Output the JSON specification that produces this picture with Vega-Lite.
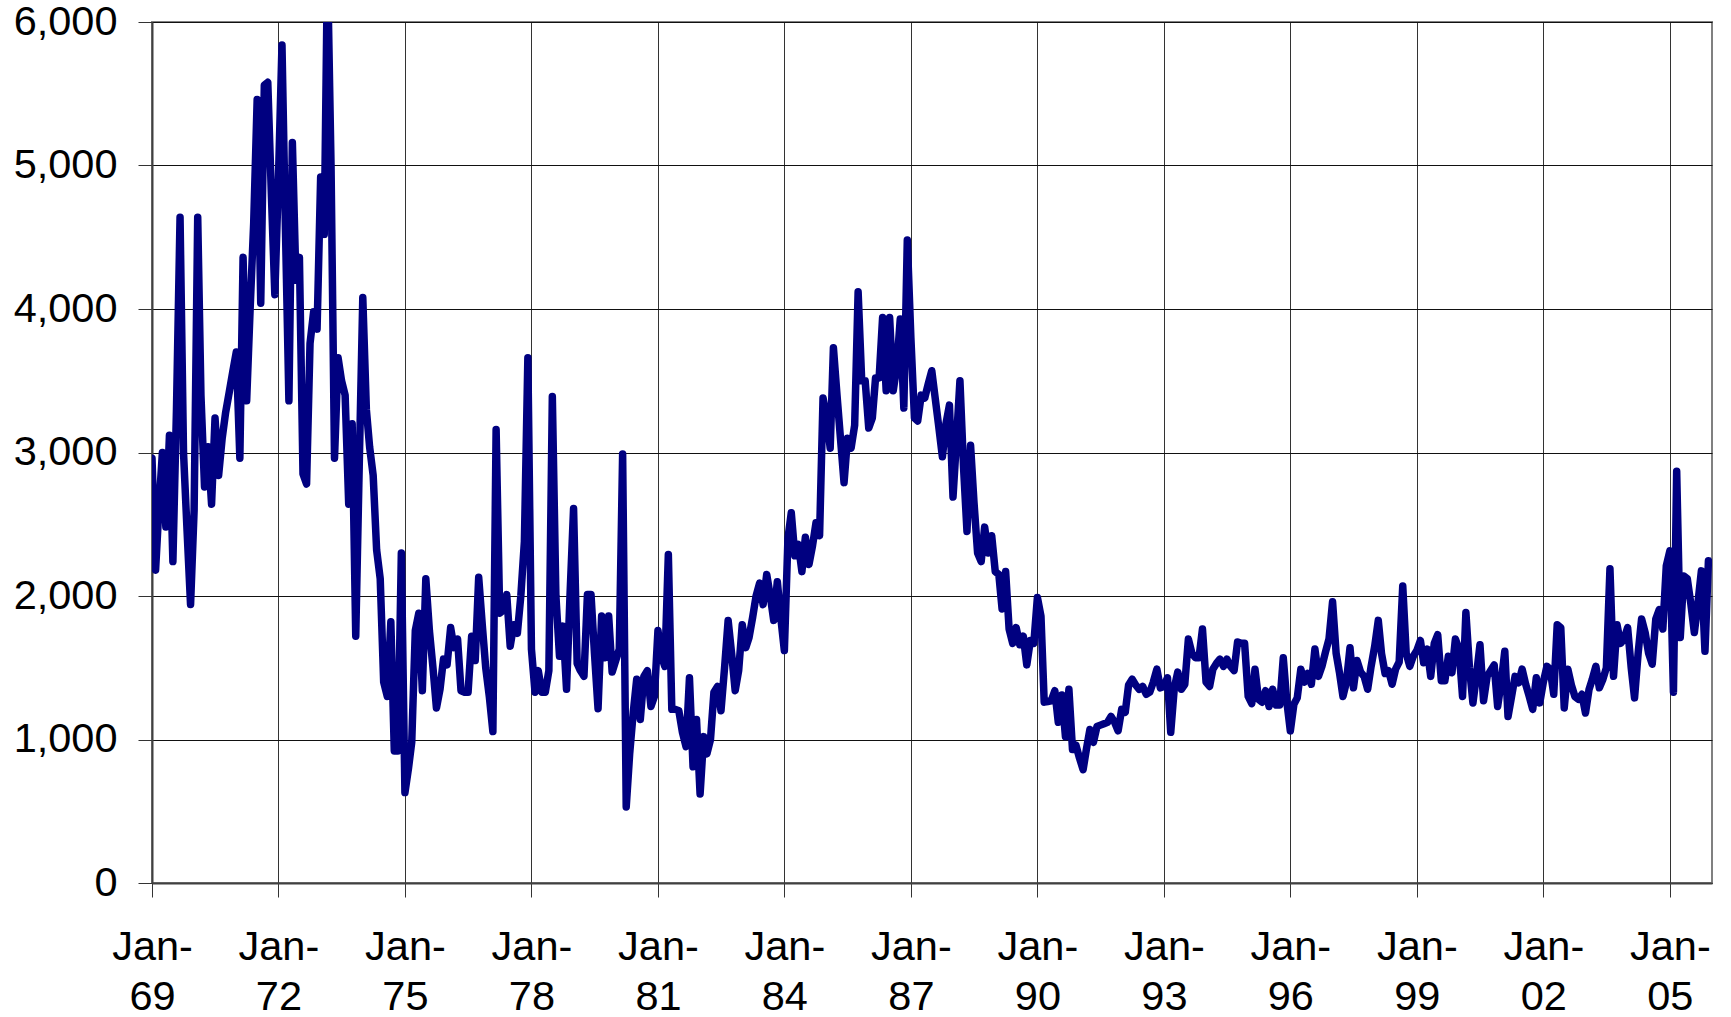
{
  "$schema": "https://vega.github.io/schema/vega-lite/v6.json",
  "width": 1560,
  "height": 861,
  "autosize": {"type": "none"},
  "padding": {"left": 152, "top": 22, "right": 19, "bottom": 134},
  "background": "white",
  "config": {
    "font": "Liberation Sans",
    "view": {"stroke": "#808080", "strokeWidth": 2}
  },
  "data": {
    "values": [
      {"d":"1969-01-01","v":2960},{"d":"1969-02-01","v":2180},{"d":"1969-03-01","v":2600},{"d":"1969-04-01","v":3000},{"d":"1969-05-01","v":2480},{"d":"1969-06-01","v":3120},{"d":"1969-07-01","v":2240},{"d":"1969-08-01","v":3300},{"d":"1969-09-01","v":4640},{"d":"1969-10-01","v":3000},{"d":"1969-11-01","v":2450},{"d":"1969-12-01","v":1940},
      {"d":"1970-01-01","v":2600},{"d":"1970-02-01","v":4640},{"d":"1970-03-01","v":3400},{"d":"1970-04-01","v":2760},{"d":"1970-05-01","v":3040},{"d":"1970-06-01","v":2640},{"d":"1970-07-01","v":3240},{"d":"1970-08-01","v":2840},{"d":"1970-09-01","v":3100},{"d":"1970-10-01","v":3280},{"d":"1970-11-01","v":3420},{"d":"1970-12-01","v":3560},
      {"d":"1971-01-01","v":3700},{"d":"1971-02-01","v":2960},{"d":"1971-03-01","v":4360},{"d":"1971-04-01","v":3360},{"d":"1971-05-01","v":4000},{"d":"1971-06-01","v":4600},{"d":"1971-07-01","v":5460},{"d":"1971-08-01","v":4040},{"d":"1971-09-01","v":5560},{"d":"1971-10-01","v":5580},{"d":"1971-11-01","v":4800},{"d":"1971-12-01","v":4100},
      {"d":"1972-01-01","v":4900},{"d":"1972-02-01","v":5840},{"d":"1972-03-01","v":4600},{"d":"1972-04-01","v":3360},{"d":"1972-05-01","v":5160},{"d":"1972-06-01","v":4200},{"d":"1972-07-01","v":4360},{"d":"1972-08-01","v":2850},{"d":"1972-09-01","v":2780},{"d":"1972-10-01","v":3760},{"d":"1972-11-01","v":3980},{"d":"1972-12-01","v":3860},
      {"d":"1973-01-01","v":4920},{"d":"1973-02-01","v":4520},{"d":"1973-03-01","v":6400},{"d":"1973-04-01","v":5000},{"d":"1973-05-01","v":2960},{"d":"1973-06-01","v":3660},{"d":"1973-07-01","v":3500},{"d":"1973-08-01","v":3400},{"d":"1973-09-01","v":2640},{"d":"1973-10-01","v":3200},{"d":"1973-11-01","v":1720},{"d":"1973-12-01","v":2900},
      {"d":"1974-01-01","v":4080},{"d":"1974-02-01","v":3300},{"d":"1974-03-01","v":3040},{"d":"1974-04-01","v":2840},{"d":"1974-05-01","v":2320},{"d":"1974-06-01","v":2120},{"d":"1974-07-01","v":1400},{"d":"1974-08-01","v":1300},{"d":"1974-09-01","v":1820},{"d":"1974-10-01","v":920},{"d":"1974-11-01","v":920},{"d":"1974-12-01","v":2300},
      {"d":"1975-01-01","v":630},{"d":"1975-02-01","v":800},{"d":"1975-03-01","v":980},{"d":"1975-04-01","v":1760},{"d":"1975-05-01","v":1880},{"d":"1975-06-01","v":1340},{"d":"1975-07-01","v":2120},{"d":"1975-08-01","v":1760},{"d":"1975-09-01","v":1500},{"d":"1975-10-01","v":1220},{"d":"1975-11-01","v":1350},{"d":"1975-12-01","v":1560},
      {"d":"1976-01-01","v":1520},{"d":"1976-02-01","v":1780},{"d":"1976-03-01","v":1640},{"d":"1976-04-01","v":1700},{"d":"1976-05-01","v":1340},{"d":"1976-06-01","v":1330},{"d":"1976-07-01","v":1330},{"d":"1976-08-01","v":1720},{"d":"1976-09-01","v":1550},{"d":"1976-10-01","v":2130},{"d":"1976-11-01","v":1800},{"d":"1976-12-01","v":1500},
      {"d":"1977-01-01","v":1300},{"d":"1977-02-01","v":1055},{"d":"1977-03-01","v":3160},{"d":"1977-04-01","v":1880},{"d":"1977-05-01","v":1900},{"d":"1977-06-01","v":2010},{"d":"1977-07-01","v":1650},{"d":"1977-08-01","v":1800},{"d":"1977-09-01","v":1740},{"d":"1977-10-01","v":2000},{"d":"1977-11-01","v":2380},{"d":"1977-12-01","v":3660},
      {"d":"1978-01-01","v":1630},{"d":"1978-02-01","v":1330},{"d":"1978-03-01","v":1480},{"d":"1978-04-01","v":1330},{"d":"1978-05-01","v":1330},{"d":"1978-06-01","v":1480},{"d":"1978-07-01","v":3390},{"d":"1978-08-01","v":2000},{"d":"1978-09-01","v":1580},{"d":"1978-10-01","v":1790},{"d":"1978-11-01","v":1350},{"d":"1978-12-01","v":2000},
      {"d":"1979-01-01","v":2610},{"d":"1979-02-01","v":1530},{"d":"1979-03-01","v":1480},{"d":"1979-04-01","v":1440},{"d":"1979-05-01","v":2010},{"d":"1979-06-01","v":2010},{"d":"1979-07-01","v":1600},{"d":"1979-08-01","v":1215},{"d":"1979-09-01","v":1860},{"d":"1979-10-01","v":1570},{"d":"1979-11-01","v":1860},{"d":"1979-12-01","v":1470},
      {"d":"1980-01-01","v":1550},{"d":"1980-02-01","v":1630},{"d":"1980-03-01","v":2990},{"d":"1980-04-01","v":530},{"d":"1980-05-01","v":900},{"d":"1980-06-01","v":1190},{"d":"1980-07-01","v":1420},{"d":"1980-08-01","v":1140},{"d":"1980-09-01","v":1440},{"d":"1980-10-01","v":1480},{"d":"1980-11-01","v":1230},{"d":"1980-12-01","v":1300},
      {"d":"1981-01-01","v":1760},{"d":"1981-02-01","v":1580},{"d":"1981-03-01","v":1510},{"d":"1981-04-01","v":2290},{"d":"1981-05-01","v":1210},{"d":"1981-06-01","v":1210},{"d":"1981-07-01","v":1200},{"d":"1981-08-01","v":1050},{"d":"1981-09-01","v":950},{"d":"1981-10-01","v":1430},{"d":"1981-11-01","v":810},{"d":"1981-12-01","v":1140},
      {"d":"1982-01-01","v":620},{"d":"1982-02-01","v":1020},{"d":"1982-03-01","v":900},{"d":"1982-04-01","v":1000},{"d":"1982-05-01","v":1330},{"d":"1982-06-01","v":1370},{"d":"1982-07-01","v":1200},{"d":"1982-08-01","v":1500},{"d":"1982-09-01","v":1830},{"d":"1982-10-01","v":1600},{"d":"1982-11-01","v":1340},{"d":"1982-12-01","v":1480},
      {"d":"1983-01-01","v":1800},{"d":"1983-02-01","v":1640},{"d":"1983-03-01","v":1710},{"d":"1983-04-01","v":1850},{"d":"1983-05-01","v":2000},{"d":"1983-06-01","v":2090},{"d":"1983-07-01","v":1940},{"d":"1983-08-01","v":2150},{"d":"1983-09-01","v":2000},{"d":"1983-10-01","v":1830},{"d":"1983-11-01","v":2100},{"d":"1983-12-01","v":1850},
      {"d":"1984-01-01","v":1620},{"d":"1984-02-01","v":2400},{"d":"1984-03-01","v":2580},{"d":"1984-04-01","v":2280},{"d":"1984-05-01","v":2360},{"d":"1984-06-01","v":2170},{"d":"1984-07-01","v":2410},{"d":"1984-08-01","v":2220},{"d":"1984-09-01","v":2350},{"d":"1984-10-01","v":2510},{"d":"1984-11-01","v":2420},{"d":"1984-12-01","v":3380},
      {"d":"1985-01-01","v":3250},{"d":"1985-02-01","v":3030},{"d":"1985-03-01","v":3730},{"d":"1985-04-01","v":3400},{"d":"1985-05-01","v":3100},{"d":"1985-06-01","v":2790},{"d":"1985-07-01","v":3100},{"d":"1985-08-01","v":3030},{"d":"1985-09-01","v":3190},{"d":"1985-10-01","v":4120},{"d":"1985-11-01","v":3500},{"d":"1985-12-01","v":3500},
      {"d":"1986-01-01","v":3170},{"d":"1986-02-01","v":3240},{"d":"1986-03-01","v":3520},{"d":"1986-04-01","v":3520},{"d":"1986-05-01","v":3940},{"d":"1986-06-01","v":3430},{"d":"1986-07-01","v":3940},{"d":"1986-08-01","v":3430},{"d":"1986-09-01","v":3600},{"d":"1986-10-01","v":3930},{"d":"1986-11-01","v":3310},{"d":"1986-12-01","v":4480},
      {"d":"1987-01-01","v":3800},{"d":"1987-02-01","v":3240},{"d":"1987-03-01","v":3220},{"d":"1987-04-01","v":3400},{"d":"1987-05-01","v":3380},{"d":"1987-06-01","v":3480},{"d":"1987-07-01","v":3570},{"d":"1987-08-01","v":3370},{"d":"1987-09-01","v":3170},{"d":"1987-10-01","v":2970},{"d":"1987-11-01","v":3200},{"d":"1987-12-01","v":3330},
      {"d":"1988-01-01","v":2690},{"d":"1988-02-01","v":3100},{"d":"1988-03-01","v":3500},{"d":"1988-04-01","v":2900},{"d":"1988-05-01","v":2450},{"d":"1988-06-01","v":3050},{"d":"1988-07-01","v":2650},{"d":"1988-08-01","v":2300},{"d":"1988-09-01","v":2240},{"d":"1988-10-01","v":2480},{"d":"1988-11-01","v":2300},{"d":"1988-12-01","v":2420},
      {"d":"1989-01-01","v":2170},{"d":"1989-02-01","v":2150},{"d":"1989-03-01","v":1910},{"d":"1989-04-01","v":2170},{"d":"1989-05-01","v":1770},{"d":"1989-06-01","v":1670},{"d":"1989-07-01","v":1780},{"d":"1989-08-01","v":1660},{"d":"1989-09-01","v":1720},{"d":"1989-10-01","v":1520},{"d":"1989-11-01","v":1690},{"d":"1989-12-01","v":1670},
      {"d":"1990-01-01","v":1990},{"d":"1990-02-01","v":1860},{"d":"1990-03-01","v":1260},{"d":"1990-04-01","v":1265},{"d":"1990-05-01","v":1270},{"d":"1990-06-01","v":1340},{"d":"1990-07-01","v":1120},{"d":"1990-08-01","v":1310},{"d":"1990-09-01","v":1020},{"d":"1990-10-01","v":1350},{"d":"1990-11-01","v":930},{"d":"1990-12-01","v":960},
      {"d":"1991-01-01","v":870},{"d":"1991-02-01","v":790},{"d":"1991-03-01","v":930},{"d":"1991-04-01","v":1070},{"d":"1991-05-01","v":980},{"d":"1991-06-01","v":1090},{"d":"1991-07-01","v":1100},{"d":"1991-08-01","v":1110},{"d":"1991-09-01","v":1120},{"d":"1991-10-01","v":1160},{"d":"1991-11-01","v":1120},{"d":"1991-12-01","v":1060},
      {"d":"1992-01-01","v":1210},{"d":"1992-02-01","v":1190},{"d":"1992-03-01","v":1380},{"d":"1992-04-01","v":1420},{"d":"1992-05-01","v":1380},{"d":"1992-06-01","v":1350},{"d":"1992-07-01","v":1370},{"d":"1992-08-01","v":1315},{"d":"1992-09-01","v":1330},{"d":"1992-10-01","v":1400},{"d":"1992-11-01","v":1490},{"d":"1992-12-01","v":1360},
      {"d":"1993-01-01","v":1370},{"d":"1993-02-01","v":1430},{"d":"1993-03-01","v":1050},{"d":"1993-04-01","v":1360},{"d":"1993-05-01","v":1470},{"d":"1993-06-01","v":1350},{"d":"1993-07-01","v":1385},{"d":"1993-08-01","v":1700},{"d":"1993-09-01","v":1600},{"d":"1993-10-01","v":1570},{"d":"1993-11-01","v":1570},{"d":"1993-12-01","v":1770},
      {"d":"1994-01-01","v":1400},{"d":"1994-02-01","v":1370},{"d":"1994-03-01","v":1490},{"d":"1994-04-01","v":1530},{"d":"1994-05-01","v":1560},{"d":"1994-06-01","v":1510},{"d":"1994-07-01","v":1560},{"d":"1994-08-01","v":1510},{"d":"1994-09-01","v":1480},{"d":"1994-10-01","v":1680},{"d":"1994-11-01","v":1670},{"d":"1994-12-01","v":1670},
      {"d":"1995-01-01","v":1300},{"d":"1995-02-01","v":1250},{"d":"1995-03-01","v":1490},{"d":"1995-04-01","v":1280},{"d":"1995-05-01","v":1260},{"d":"1995-06-01","v":1340},{"d":"1995-07-01","v":1230},{"d":"1995-08-01","v":1350},{"d":"1995-09-01","v":1240},{"d":"1995-10-01","v":1240},{"d":"1995-11-01","v":1570},{"d":"1995-12-01","v":1270},
      {"d":"1996-01-01","v":1060},{"d":"1996-02-01","v":1245},{"d":"1996-03-01","v":1290},{"d":"1996-04-01","v":1490},{"d":"1996-05-01","v":1400},{"d":"1996-06-01","v":1460},{"d":"1996-07-01","v":1385},{"d":"1996-08-01","v":1630},{"d":"1996-09-01","v":1440},{"d":"1996-10-01","v":1510},{"d":"1996-11-01","v":1610},{"d":"1996-12-01","v":1700},
      {"d":"1997-01-01","v":1960},{"d":"1997-02-01","v":1600},{"d":"1997-03-01","v":1470},{"d":"1997-04-01","v":1300},{"d":"1997-05-01","v":1400},{"d":"1997-06-01","v":1640},{"d":"1997-07-01","v":1360},{"d":"1997-08-01","v":1550},{"d":"1997-09-01","v":1470},{"d":"1997-10-01","v":1440},{"d":"1997-11-01","v":1350},{"d":"1997-12-01","v":1510},
      {"d":"1998-01-01","v":1650},{"d":"1998-02-01","v":1830},{"d":"1998-03-01","v":1600},{"d":"1998-04-01","v":1460},{"d":"1998-05-01","v":1480},{"d":"1998-06-01","v":1385},{"d":"1998-07-01","v":1490},{"d":"1998-08-01","v":1540},{"d":"1998-09-01","v":2070},{"d":"1998-10-01","v":1600},{"d":"1998-11-01","v":1510},{"d":"1998-12-01","v":1580},
      {"d":"1999-01-01","v":1620},{"d":"1999-02-01","v":1690},{"d":"1999-03-01","v":1535},{"d":"1999-04-01","v":1630},{"d":"1999-05-01","v":1440},{"d":"1999-06-01","v":1670},{"d":"1999-07-01","v":1730},{"d":"1999-08-01","v":1410},{"d":"1999-09-01","v":1410},{"d":"1999-10-01","v":1580},{"d":"1999-11-01","v":1465},{"d":"1999-12-01","v":1700},
      {"d":"2000-01-01","v":1630},{"d":"2000-02-01","v":1300},{"d":"2000-03-01","v":1885},{"d":"2000-04-01","v":1500},{"d":"2000-05-01","v":1255},{"d":"2000-06-01","v":1450},{"d":"2000-07-01","v":1660},{"d":"2000-08-01","v":1270},{"d":"2000-09-01","v":1440},{"d":"2000-10-01","v":1480},{"d":"2000-11-01","v":1520},{"d":"2000-12-01","v":1230},
      {"d":"2001-01-01","v":1400},{"d":"2001-02-01","v":1615},{"d":"2001-03-01","v":1160},{"d":"2001-04-01","v":1300},{"d":"2001-05-01","v":1440},{"d":"2001-06-01","v":1395},{"d":"2001-07-01","v":1490},{"d":"2001-08-01","v":1385},{"d":"2001-09-01","v":1300},{"d":"2001-10-01","v":1210},{"d":"2001-11-01","v":1430},{"d":"2001-12-01","v":1255},
      {"d":"2002-01-01","v":1400},{"d":"2002-02-01","v":1510},{"d":"2002-03-01","v":1490},{"d":"2002-04-01","v":1315},{"d":"2002-05-01","v":1800},{"d":"2002-06-01","v":1780},{"d":"2002-07-01","v":1220},{"d":"2002-08-01","v":1490},{"d":"2002-09-01","v":1380},{"d":"2002-10-01","v":1300},{"d":"2002-11-01","v":1280},{"d":"2002-12-01","v":1315},
      {"d":"2003-01-01","v":1185},{"d":"2003-02-01","v":1350},{"d":"2003-03-01","v":1420},{"d":"2003-04-01","v":1510},{"d":"2003-05-01","v":1360},{"d":"2003-06-01","v":1420},{"d":"2003-07-01","v":1500},{"d":"2003-08-01","v":2190},{"d":"2003-09-01","v":1440},{"d":"2003-10-01","v":1800},{"d":"2003-11-01","v":1670},{"d":"2003-12-01","v":1700},
      {"d":"2004-01-01","v":1780},{"d":"2004-02-01","v":1500},{"d":"2004-03-01","v":1290},{"d":"2004-04-01","v":1600},{"d":"2004-05-01","v":1840},{"d":"2004-06-01","v":1745},{"d":"2004-07-01","v":1600},{"d":"2004-08-01","v":1525},{"d":"2004-09-01","v":1840},{"d":"2004-10-01","v":1905},{"d":"2004-11-01","v":1770},{"d":"2004-12-01","v":2210},
      {"d":"2005-01-01","v":2315},{"d":"2005-02-01","v":1330},{"d":"2005-03-01","v":2870},{"d":"2005-04-01","v":1710},{"d":"2005-05-01","v":2140},{"d":"2005-06-01","v":2120},{"d":"2005-07-01","v":1950},{"d":"2005-08-01","v":1745},{"d":"2005-09-01","v":1950},{"d":"2005-10-01","v":2175},{"d":"2005-11-01","v":1615},{"d":"2005-12-01","v":2245}
    ]
  },
  "mark": {"type": "line", "color": "#000080", "strokeWidth": 7.5, "strokeJoin": "round", "strokeCap": "round", "clip": true},
  "encoding": {
    "x": {
      "field": "d",
      "type": "temporal",
      "scale": {"type": "utc", "domain": [{"year": 1969, "month": 1, "date": 1, "utc": true}, {"year": 2006, "month": 1, "date": 1, "utc": true}]},
      "axis": {
        "title": null,
        "values": [
          {"year": 1969, "month": 1, "date": 1, "utc": true},
          {"year": 1972, "month": 1, "date": 1, "utc": true},
          {"year": 1975, "month": 1, "date": 1, "utc": true},
          {"year": 1978, "month": 1, "date": 1, "utc": true},
          {"year": 1981, "month": 1, "date": 1, "utc": true},
          {"year": 1984, "month": 1, "date": 1, "utc": true},
          {"year": 1987, "month": 1, "date": 1, "utc": true},
          {"year": 1990, "month": 1, "date": 1, "utc": true},
          {"year": 1993, "month": 1, "date": 1, "utc": true},
          {"year": 1996, "month": 1, "date": 1, "utc": true},
          {"year": 1999, "month": 1, "date": 1, "utc": true},
          {"year": 2002, "month": 1, "date": 1, "utc": true},
          {"year": 2005, "month": 1, "date": 1, "utc": true}
        ],
        "labelExpr": "['Jan-', utcFormat(datum.value, '%y')]",
        "labelFontSize": 41.5,
        "labelColor": "#000000",
        "labelFont": "Liberation Sans",
        "labelLineHeight": 50,
        "labelPadding": 29,
        "labelAlign": "center",
        "labelBaseline": "top",
        "labelOverlap": false,
        "labelFlush": false,
        "tickSize": 14,
        "tickColor": "#333333",
        "tickWidth": 1,
        "domainColor": "#404040",
        "domainWidth": 2,
        "grid": true,
        "gridColor": "#333333",
        "gridWidth": 1
      }
    },
    "y": {
      "field": "v",
      "type": "quantitative",
      "scale": {"domain": [0, 6000], "nice": false, "zero": true},
      "axis": {
        "title": null,
        "values": [0, 1000, 2000, 3000, 4000, 5000, 6000],
        "format": ",.0f",
        "labelFontSize": 41.5,
        "labelColor": "#000000",
        "labelFont": "Liberation Sans",
        "labelPadding": 21,
        "labelBaseline": "middle",
        "labelOverlap": false,
        "labelFlush": false,
        "tickSize": 14,
        "tickColor": "#333333",
        "tickWidth": 1,
        "domainColor": "#404040",
        "domainWidth": 2,
        "grid": true,
        "gridColor": "#111111",
        "gridWidth": 1
      }
    }
  }
}
